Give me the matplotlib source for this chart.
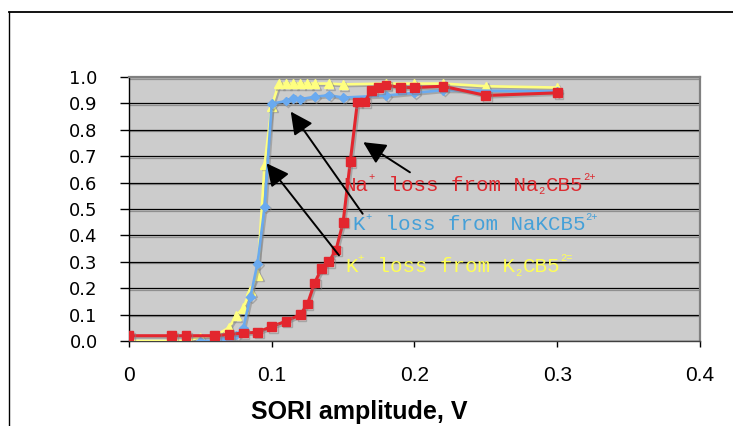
import matplotlib
matplotlib.use("Agg")
import matplotlib.pyplot as plt
import matplotlib.patheffects as pe
from matplotlib.lines import Line2D
from matplotlib.transforms import offset_copy

# ---- data ----
na_x = [0, 0.03, 0.04, 0.06, 0.07, 0.08, 0.09, 0.10, 0.11, 0.12, 0.125, 0.13, 0.135,
        0.14, 0.145, 0.15, 0.155, 0.16, 0.165, 0.17, 0.175, 0.18, 0.19, 0.20, 0.22, 0.25, 0.30]
na_y = [0.02, 0.02, 0.02, 0.02, 0.025, 0.03, 0.033, 0.055, 0.075, 0.10, 0.14, 0.22, 0.275,
        0.30, 0.345, 0.45, 0.68, 0.905, 0.905, 0.95, 0.96, 0.97, 0.96, 0.96, 0.965, 0.93, 0.94]

nak_x = [0.05, 0.06, 0.065, 0.07, 0.075, 0.08, 0.085, 0.09, 0.095, 0.10, 0.11, 0.115, 0.12,
         0.13, 0.14, 0.15, 0.18, 0.20, 0.22, 0.30]
nak_y = [0.0, 0.0, 0.005, 0.01, 0.023, 0.048, 0.167, 0.293, 0.509, 0.899, 0.909, 0.92, 0.916,
         0.925, 0.931, 0.922, 0.93, 0.94, 0.95, 0.945]

k2_x = [0, 0.03, 0.04, 0.05, 0.06, 0.07, 0.075, 0.08, 0.085, 0.09, 0.095, 0.10, 0.105, 0.11,
        0.115, 0.12, 0.125, 0.13, 0.14, 0.15, 0.18, 0.20, 0.22, 0.25, 0.30]
k2_y = [0.0, 0.0, 0.0, 0.015, 0.02, 0.05, 0.095, 0.125, 0.19, 0.25, 0.67, 0.89, 0.975, 0.975,
        0.975, 0.975, 0.975, 0.975, 0.975, 0.972, 0.975, 0.975, 0.975, 0.965, 0.96]

x_ticks = [0, 0.1, 0.2, 0.3, 0.4]
x_tick_labels = ['0', '0.1', '0.2', '0.3', '0.4']
y_ticks = [0.0, 0.1, 0.2, 0.3, 0.4, 0.5, 0.6, 0.7, 0.8, 0.9, 1.0]
y_tick_labels = ['%.1f' % v for v in y_ticks]

x_label = 'SORI amplitude, V'
# rich-text labels: (text, kind) with kind in n (normal), sup, sub
label_na = [('Na', 'n'), ('+', 'sup'), (' loss from Na', 'n'), ('2', 'sub'), ('CB5', 'n'), ('2+', 'sup')]
label_nak = [('K', 'n'), ('+', 'sup'), (' loss from NaKCB5', 'n'), ('2+', 'sup')]
label_k2 = [('K', 'n'), ('+', 'sup'), (' loss from K', 'n'), ('2', 'sub'), ('CB5', 'n'), ('2=', 'sup')]

# ---- figure ----
W, H = 733, 426
fig = plt.figure(figsize=(W / 100, H / 100), dpi=100)
ax = fig.add_axes([129 / W, (H - 341) / H, (700 - 129) / W, (341 - 77) / H])
ax.set_facecolor('#cccccc')

red = '#e3262e'
blue = '#6aaaf0'
yellow = '#ffff80'

shadow = [pe.SimpleLineShadow(offset=(1.2, -1.2), shadow_color='#808080', alpha=0.5), pe.Normal()]

ax.plot(k2_x, k2_y, color=yellow, lw=1.9, marker='^', ms=6.5, mec=yellow, mfc=yellow,
        zorder=3, path_effects=shadow)
ax.plot(nak_x, nak_y, color=blue, lw=1.9, marker='D', ms=4.5, mec=blue, mfc=blue,
        zorder=4, path_effects=shadow)
ax.plot(na_x, na_y, color=red, lw=2.2, marker='s', ms=6.3, mec=red, mfc=red,
        zorder=5, path_effects=shadow)

ax.set_xlim(0, 0.4)
ax.set_ylim(0, 1.0)
ax.set_xticks(x_ticks)
ax.set_xticklabels(x_tick_labels, fontsize=15, family='Liberation Sans')
ax.set_yticks(y_ticks)
ax.set_yticklabels(y_tick_labels, fontsize=13, family='DejaVu Sans')
ax.tick_params(axis='y', direction='out', length=6.5, width=1, pad=16, colors='black')
ax.tick_params(axis='x', direction='out', length=4.3, width=1, pad=14, colors='black')

ax.set_axisbelow(True)
ax.grid(axis='y', color='black', lw=0.9)
for gl in ax.get_ygridlines():
    gl.set_path_effects([pe.SimpleLineShadow(offset=(0, -1.2), shadow_color='#808080', alpha=0.8),
                         pe.Normal()])

ax.spines['top'].set_color('#808080')
ax.spines['top'].set_linewidth(1.6)
ax.spines['right'].set_color('#808080')
ax.spines['right'].set_linewidth(1.6)
ax.spines['left'].set_color('black')
ax.spines['left'].set_linewidth(1.0)
ax.spines['bottom'].set_color('#404040')
ax.spines['bottom'].set_linewidth(1.0)

# rich monospace text (Liberation Mono advance = 0.6 em)
MAIN = 15.0
SMALL = 7.5
RAISE = 7.8
LOWER = -2.6


def rich_text(x, y, pieces, color):
    off = 0.0
    for txt, kind in pieces:
        if kind == 'n':
            size, dy = MAIN, 0.0
        elif kind == 'sup':
            size, dy = SMALL, RAISE
        else:
            size, dy = SMALL, LOWER
        tr = offset_copy(ax.transData, fig=fig, x=off, y=dy, units='points')
        ax.text(x, y, txt, transform=tr, color=color, fontsize=size,
                family='Liberation Mono', va='baseline', ha='left', zorder=6)
        off += 0.6 * size * len(txt) + (1.0 if kind != 'n' else 0.0)


rich_text(0.150, 0.570, label_na, '#dd2a30')
rich_text(0.1567, 0.419, label_nak, '#45a0d8')
rich_text(0.1513, 0.2615, label_k2, '#ffff55')

aprops = dict(arrowstyle='-|>,head_length=0.8,head_width=0.4', color='black', lw=1.4,
              mutation_scale=17, shrinkA=0, shrinkB=0)
ax.annotate('', xy=(0.1641, 0.753), xytext=(0.1968, 0.639), arrowprops=aprops, zorder=7)
ax.annotate('', xy=(0.1133, 0.869), xytext=(0.1637, 0.482), arrowprops=aprops, zorder=7)
ax.annotate('', xy=(0.0964, 0.673), xytext=(0.1471, 0.3245), arrowprops=aprops, zorder=7)

# x axis label (as in reference, offset left of axis centre)
fig.text(359 / W, (H - 412) / H, x_label, fontsize=18, fontweight='bold',
         family='Liberation Sans', ha='center', va='center')

# outer chart frame (partially visible)
fig.add_artist(Line2D([9 / W, 9 / W], [0, (H - 12) / H], color='black', lw=1.0,
                      transform=fig.transFigure))
fig.add_artist(Line2D([9 / W, 1.0], [(H - 12) / H, (H - 12) / H], color='black', lw=1.3,
                      transform=fig.transFigure))

fig.savefig('out.png', dpi=100)
